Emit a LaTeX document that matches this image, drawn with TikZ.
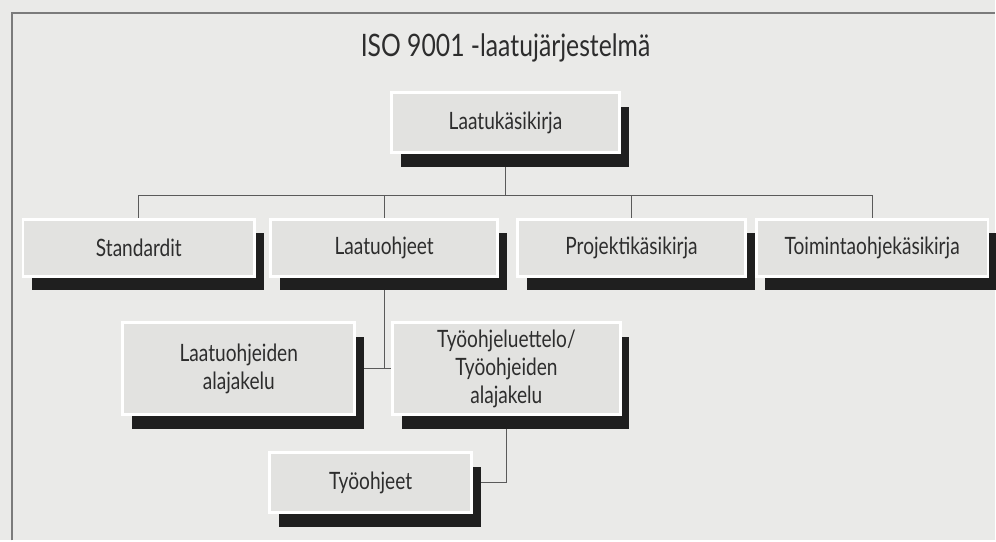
\documentclass[tikz,border=0pt]{standalone}
\usepackage{fontspec}
\setmainfont{Lato}[FakeStretch=0.8]
\usetikzlibrary{positioning,shadows}
\definecolor{kasiPaper}{RGB}{234,234,232}
\definecolor{kasiBox}{RGB}{226,226,224}
\definecolor{kasiInk}{RGB}{45,45,45}
\definecolor{kasiLine}{RGB}{90,90,90}
\pgfdeclarelayer{paper}
\pgfdeclarelayer{links}
\pgfsetlayers{paper,links,main}

\begin{document}
\begin{tikzpicture}[
  x=0.025cm, y=-0.025cm,
  box/.style={
    draw=white,
    line width=2pt,
    fill=kasiBox,
    text=kasiInk,
    align=center,
    minimum width=5.7cm,
    minimum height=1.425cm,
    inner sep=2pt,
    font=\fontsize{17}{20}\selectfont,
    drop shadow={shadow xshift=6.5pt, shadow yshift=-10pt, fill=black!88, opacity=1}
  },
  link/.style={kasiLine, line width=0.9pt}
]
  \begin{pgfonlayer}{paper}
    \fill[kasiPaper] (0,0) rectangle (996,541);
    \draw[kasiLine!80, line width=1.4pt] (12,541) -- (12,13) -- (996,13);
  \end{pgfonlayer}

  \node[text=kasiInk, font=\fontsize{22}{24}\selectfont] (title) at (506,48)
    {ISO 9001 -laatujärjestelmä};

  \node[box, minimum height=1.5cm] (lk) at (506,123) {Laatukäsikirja};

  \node[box, minimum width=5.8cm] (std) at (139,248) {Standardit};
  \node[box, minimum width=5.675cm, right=0.33cm of std] (lo) {Laatuohjeet};
  \node[box, right=0.43cm of lo] (pk) {Projektikäsikirja};
  \node[box, minimum width=5.8cm, right=0.2cm of pk] (tk) {Toimintaohjekäsikirja};

  \node[box, minimum width=5.8cm, minimum height=2.3cm] (loa) at (239,369)
    {Laatuohjeiden\\alajakelu};
  \node[box, minimum height=2.3cm, right=0.875cm of loa] (tol)
    {Työohjeluettelo/\\Työohjeiden\\alajakelu};

  \node[box, minimum width=5.05cm, minimum height=1.5cm] (to) at (371,483) {Työohjeet};

  \begin{pgfonlayer}{links}
    \coordinate (bus) at (0,196);
    \draw[link] (lk) -- (lk |- bus);
    \draw[link] (std) -- (std |- bus) -- (tk |- bus) -- (tk);
    \draw[link] (lo) -- (lo |- bus);
    \draw[link] (pk) -- (pk |- bus);
    \draw[link] (lo) -- (lo |- loa.east);
    \draw[link] (loa.east) -- (tol.west);
    \draw[link] (tol) |- (to.east);
  \end{pgfonlayer}
\end{tikzpicture}
\end{document}
